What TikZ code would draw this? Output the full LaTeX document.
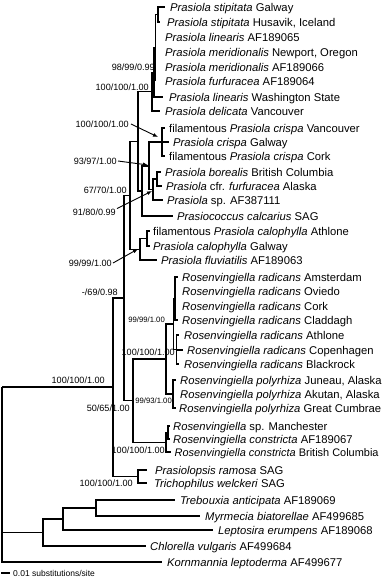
\documentclass[tikz,border=0pt]{standalone}
\usepackage{fontspec}
\setmainfont{Liberation Sans}
\usetikzlibrary{arrows.meta}
\begin{document}
\begin{tikzpicture}[x=1pt,y=-1pt,
 br/.style={line width=1.5pt},
 lt/.style={anchor=west,inner sep=0pt,text height=8pt,text depth=0pt,font=\fontsize{11.25}{13}\selectfont},
 bs/.style={anchor=east,inner sep=0pt,text height=6.5pt,text depth=0pt,font=\fontsize{9.1}{11}\selectfont},
 bss/.style={anchor=east,inner sep=0pt,text height=5.5pt,text depth=0pt,font=\fontsize{7.7}{9}\selectfont},
 arr/.style={line width=0.9pt,-{Latex[length=5pt,width=4pt]}}]
\useasboundingbox (0,0) rectangle (383,581);
% internal nodes
\coordinate (R0) at (2,387.2);
\coordinate (I) at (113,387.2);
\coordinate (J) at (124,297.9);
\coordinate (K) at (138,476.5);
\coordinate (P) at (130,195.3);
\coordinate (Q) at (138,141.3);
\coordinate (U) at (152,91.7);
\coordinate (V) at (154,72.4);
\coordinate (V1) at (155.5,47.75);
\coordinate (S) at (158,14.5);
\coordinate (Q2) at (142,190.9);
\coordinate (M) at (149,165.75);
\coordinate (N) at (162,142);
\coordinate (B2) at (153,189.5);
\coordinate (B3) at (157,179);
\coordinate (Cal) at (140,249.25);
\coordinate (Cal2) at (147,238.5);
\coordinate (R) at (133,400.6);
\coordinate (RR) at (166,359);
\coordinate (RA) at (173.5,324);
\coordinate (RA1) at (175,298.5);
\coordinate (RA2) at (176.5,349.5);
\coordinate (PO) at (173,394);
\coordinate (RC) at (166,442.25);
\coordinate (RC2) at (168,432.5);
\coordinate (A) at (43,532.5);
\coordinate (B) at (63,519);
\coordinate (C) at (96,508);
% leaves
\newcommand\lf[5]{\coordinate (#1) at (#2,#3); \node[lt] (#1t) at (#4,#3) {#5};}
\lf{l1}{165}{7}{170}{\textit{Prasiola stipitata} Galway}
\lf{l2}{160}{22}{167}{\textit{Prasiola stipitata} Husavik, Iceland}
\lf{l3}{155.5}{37}{165}{\textit{Prasiola linearis} AF189065}
\lf{l4}{155.5}{52}{165}{\textit{Prasiola meridionalis} Newport, Oregon}
\lf{l5}{155.5}{67}{165}{\textit{Prasiola meridionalis} AF189066}
\lf{l6}{155.5}{81}{165}{\textit{Prasiola furfuracea} AF189064}
\lf{l7}{163}{97}{169}{\textit{Prasiola linearis} Washington State}
\lf{l8}{160}{111}{165}{\textit{Prasiola delicata} Vancouver}
\lf{l9}{165}{128}{169}{filamentous \textit{Prasiola crispa} Vancouver}
\lf{l10}{169}{142}{173}{\textit{Prasiola crispa} Galway}
\lf{l11}{165}{156}{169}{filamentous \textit{Prasiola crispa} Cork}
\lf{l12}{161}{172}{165}{\textit{Prasiola borealis} British Columbia}
\lf{l13}{162}{186}{166}{\textit{Prasiola} cfr. \textit{furfuracea} Alaska}
\lf{l14}{163}{200}{167}{\textit{Prasiola} sp. AF387111}
\lf{l15}{173}{216}{177}{\textit{Prasiococcus calcarius} SAG}
\lf{l16}{150}{231}{153}{filamentous \textit{Prasiola calophylla} Athlone}
\lf{l17}{150}{246}{153}{\textit{Prasiola calophylla} Galway}
\lf{l18}{157}{260}{161}{\textit{Prasiola fluviatilis} AF189063}
\lf{l19}{178}{277}{182}{\textit{Rosenvingiella radicans} Amsterdam}
\lf{l20}{175}{291}{182}{\textit{Rosenvingiella radicans} Oviedo}
\lf{l21}{175}{306}{182}{\textit{Rosenvingiella radicans} Cork}
\lf{l22}{178}{320}{182}{\textit{Rosenvingiella radicans} Claddagh}
\lf{l23}{179}{335}{184}{\textit{Rosenvingiella radicans} Athlone}
\lf{l24}{183}{350}{187}{\textit{Rosenvingiella radicans} Copenhagen}
\lf{l25}{179}{364}{184}{\textit{Rosenvingiella radicans} Blackrock}
\lf{l26}{176}{380}{180}{\textit{Rosenvingiella polyrhiza} Juneau, Alaska}
\lf{l27}{173}{394}{180}{\textit{Rosenvingiella polyrhiza} Akutan, Alaska}
\lf{l28}{176}{408}{179}{\textit{Rosenvingiella polyrhiza} Great Cumbrae}
\lf{l29}{170}{426}{173}{\textit{Rosenvingiella} sp. Manchester}
\lf{l30}{170}{439}{173}{\textit{Rosenvingiella constricta} AF189067}
\lf{l31}{171}{452}{174.5}{\fontsize{10.95}{13}\selectfont\textit{Rosenvingiella constricta} British Columbia}
\lf{l32}{147}{470}{155}{\textit{Prasiolopsis ramosa} SAG}
\lf{l33}{147}{483}{154}{\textit{Trichophilus welckeri} SAG}
\lf{l34}{175}{500}{180}{\textit{Trebouxia anticipata} AF189069}
\lf{l35}{200}{516}{205}{\textit{Myrmecia biatorellae} AF499685}
\lf{l36}{213}{530}{218}{\textit{Leptosira erumpens} AF189068}
\lf{l37}{146}{546}{150}{\textit{Chlorella vulgaris} AF499684}
\lf{l38}{162}{562}{167}{\textit{Kornmannia leptoderma} AF499677}
% branches
\foreach \p/\c in {R0/I,R0/A,R0/l38,I/J,I/K,K/l32,K/l33,J/P,J/R,
  P/Q,P/Cal,Q/U,Q/Q2,U/V,U/l8,V/V1,V/l7,V1/S,V1/l3,V1/l4,V1/l5,V1/l6,S/l1,S/l2,
  Q2/M,Q2/l15,M/N,M/B2,N/l9,N/l10,N/l11,B2/B3,B2/l14,B3/l12,B3/l13,
  Cal/Cal2,Cal/l18,Cal2/l16,Cal2/l17,
  R/RR,R/RC,RR/RA,RR/PO,RA/RA1,RA/RA2,RA1/l19,RA1/l20,RA1/l21,RA1/l22,
  RA2/l23,RA2/l24,RA2/l25,PO/l26,PO/l27,PO/l28,RC/RC2,RC/l31,RC2/l29,RC2/l30,
  A/B,A/l37,B/C,B/l36,C/l34,C/l35}
  \draw[br] (\p) |- (\c);
% support labels
\node[bs] (s1) at (155,67) {98/99/0.99};
\node[bs] (s2) at (149,87) {100/100/1.00};
\node[bs] (s3) at (129,124) {100/100/1.00};
\node[bs] (s4) at (117,161) {93/97/1.00};
\node[bs] (s5) at (127,190) {67/70/1.00};
\node[bs] (s6) at (116,212) {91/80/0.99};
\node[bs] (s7) at (112,263) {99/99/1.00};
\node[bs] (s8) at (118,292) {-/69/0.98};
\node[bss] (s9) at (165,320) {99/99/1.00};
\node[bs] (s10) at (175,352) {100/100/1.00};
\node[bss] (s11) at (172,401) {99/93/1.00};
\node[bs] (s12) at (130,408) {50/65/1.00};
\node[bs] (s13) at (165,450) {100/100/1.00};
\node[bs] (s14) at (133,483) {100/100/1.00};
\node[bs] (s15) at (105,380) {100/100/1.00};
% arrows
\coordinate (a3) at (158,137);
\coordinate (a4) at (148,165);
\coordinate (a6) at (152,191);
\coordinate (a7) at (138,249);
\draw[arr] ([xshift=2pt]s3.east) -- (a3);
\draw[arr] ([xshift=1pt]s4.east) -- (a4);
\draw[arr] ([xshift=1pt]s6.north east) -- (a6);
\draw[arr] ([xshift=1pt]s7.east) -- (a7);
% scale bar
\coordinate (sb1) at (1,573);
\coordinate (sb2) at (10,573);
\draw[line width=1.2pt] (sb1) -- (sb2);
\node[anchor=west,inner sep=0pt,text height=6pt,text depth=0pt,font=\fontsize{8.5}{10}\selectfont] (sbt) at (13,573) {0.01 substitutions/site};
\end{tikzpicture}
\end{document}
